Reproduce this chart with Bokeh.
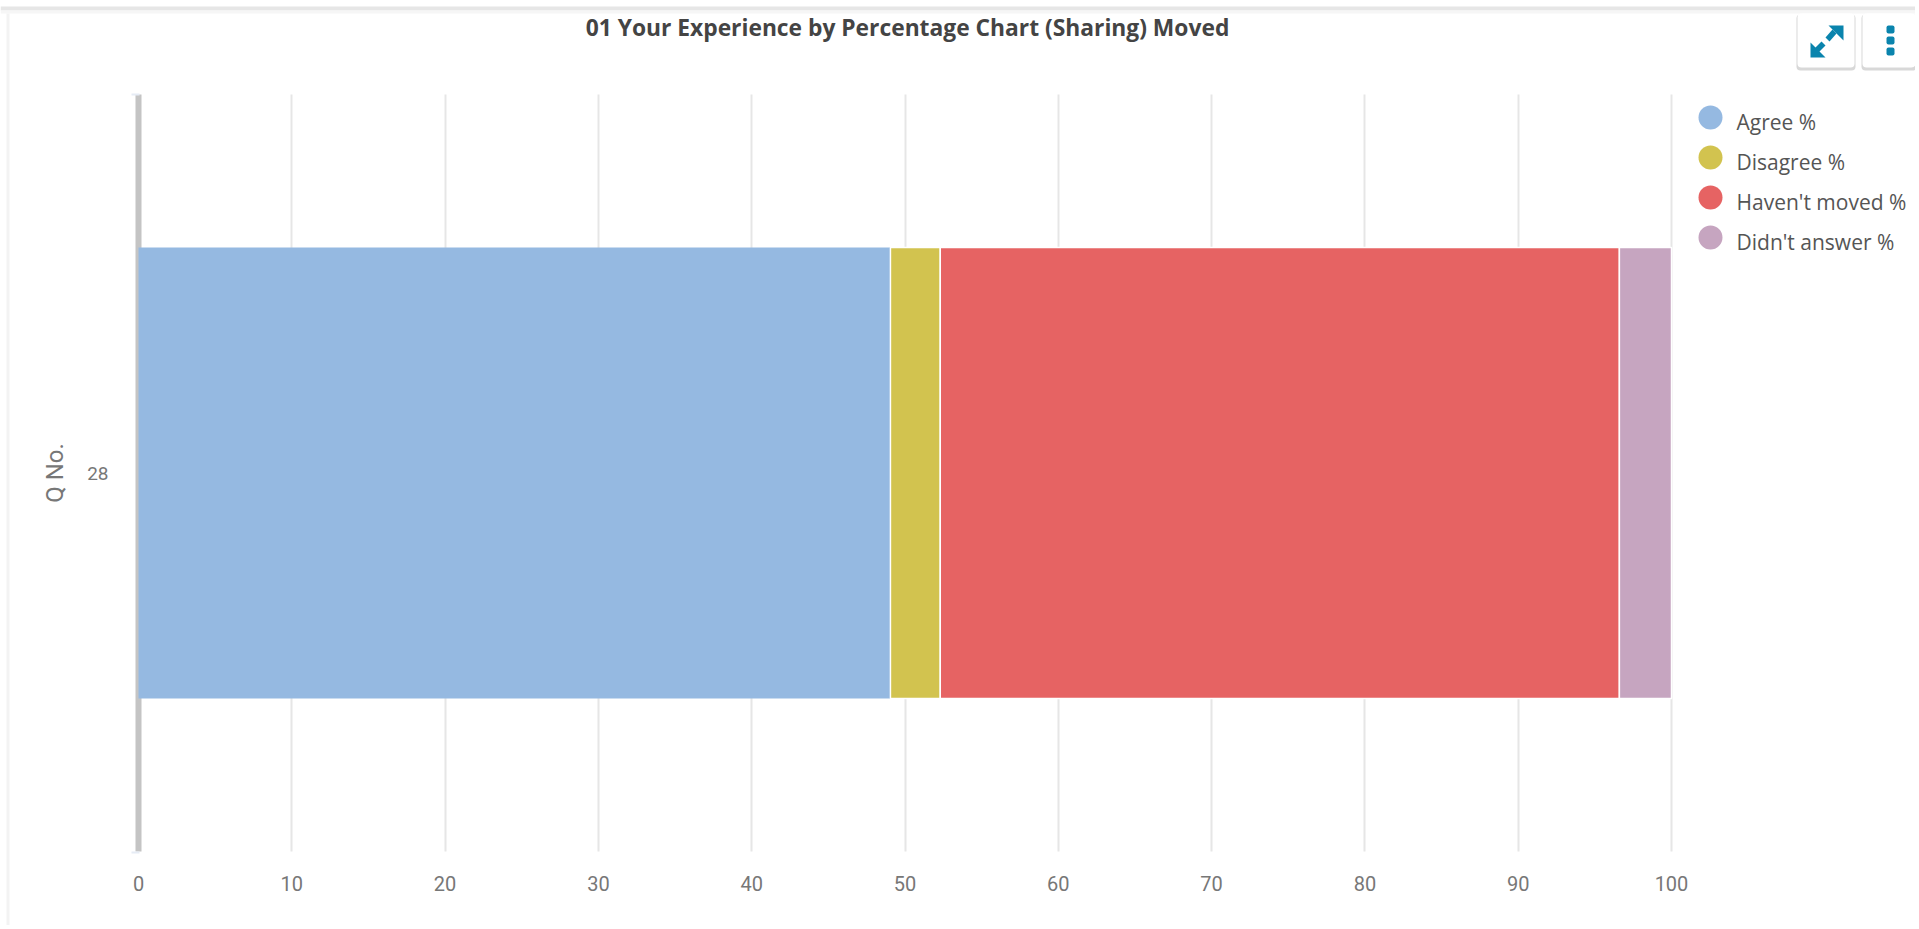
from bokeh.plotting import figure
from bokeh.models import (ColumnDataSource, Range1d, FixedTicker, BoxAnnotation,
                          PolyAnnotation, Label)
from bokeh.embed import file_html
from bokeh.resources import INLINE

categories = ["28"]
category_positions = [0]
series_names = ["Agree %", "Disagree %", "Haven't moved %", "Didn't answer %"]
agree = [49.05]
disagree = [3.25]
havent_moved = [44.3]
didnt_answer = [3.4]
colors = ["#95b9e1", "#d2c34f", "#e66363", "#c6a5c0"]
x_ticks = [0, 10, 20, 30, 40, 50, 60, 70, 80, 90, 100]
title_text = "01 Your Experience by Percentage Chart (Sharing) Moved"
y_title = "Q No."

W, H = 1915, 925
PX_X = 15.33   # pixels per percent
PX_Y = 757.0   # pixels per category band
X0_PX, Y0_PX = 138.0, 472.5


def box(l, t, r, b, color, radius=0, alpha=1.0):
    return BoxAnnotation(left=l, right=r, top=t, bottom=b,
                         left_units="canvas", right_units="canvas",
                         top_units="canvas", bottom_units="canvas",
                         fill_color=color, fill_alpha=alpha, line_color=None,
                         border_radius=radius, editable=False)


def poly(points, color):
    return PolyAnnotation(xs=[x for x, _ in points], ys=[y for _, y in points],
                          xs_units="canvas", ys_units="canvas",
                          fill_color=color, fill_alpha=1.0, line_color=None)


def label(x, y, text, font, size, color, style="normal", align="left"):
    return Label(x=x, y=y, x_units="canvas", y_units="canvas", text=text,
                 text_font=font, text_font_size=size, text_color=color, text_font_style=style,
                 text_align=align, text_baseline="middle")


p = figure(width=W, height=H, output_backend="svg", toolbar_location=None,
           x_range=Range1d(-X0_PX / PX_X, (W - X0_PX) / PX_X),
           y_range=Range1d(-(H - Y0_PX) / PX_Y, Y0_PX / PX_Y),
           min_border=0, tools="")
p.outline_line_color = None
p.background_fill_color = "white"
p.border_fill_color = "white"

source = ColumnDataSource(dict(q=category_positions, agree=agree, disagree=disagree,
                               havent=havent_moved, didnt=didnt_answer))
rs = p.hbar_stack(["agree", "disagree", "havent", "didnt"], y="q", height=0.596, source=source,
                  color=colors, line_color="white", line_width=1.5)
for r in rs:
    r.level = "overlay"
rs[0].glyph.line_color = None

p.xaxis.fixed_location = -0.5
p.xaxis.bounds = (0, 100)
p.xaxis.ticker = FixedTicker(ticks=x_ticks)
p.xaxis.axis_line_color = None
p.xaxis.major_tick_line_color = None
p.xaxis.minor_tick_line_color = None
p.xaxis.major_label_text_font = "Roboto"
p.xaxis.major_label_text_font_size = "20px"
p.xaxis.major_label_text_color = "#777777"
p.xaxis.major_label_standoff = 18

p.yaxis.fixed_location = 0
p.yaxis.bounds = (-0.5, 0.5)
p.yaxis.ticker = FixedTicker(ticks=category_positions)
p.yaxis.major_label_overrides = dict(zip(category_positions, categories))
p.yaxis.axis_label = y_title
p.yaxis.axis_label_text_font = "Roboto"
p.yaxis.axis_label_text_font_style = "normal"
p.yaxis.axis_label_text_font_size = "24px"
p.yaxis.axis_label_text_color = "#777777"
p.yaxis.axis_line_color = "#c4c4c4"
p.yaxis.axis_line_width = 6
p.yaxis.major_tick_line_color = None
p.yaxis.minor_tick_line_color = None
p.yaxis.major_label_text_font = "Roboto"
p.yaxis.major_label_text_font_size = "19px"
p.yaxis.major_label_text_color = "#777777"
p.yaxis.major_label_standoff = 24
p.yaxis.axis_label_standoff = 15
p.yaxis.major_label_orientation = "horizontal"

p.xgrid.ticker = FixedTicker(ticks=x_ticks[1:])
p.xgrid.cross_bounds = (-0.5, 0.5)
p.xgrid.grid_line_color = "#e6e6e6"
p.xgrid.grid_line_width = 2
p.ygrid.grid_line_color = None

# card edge
p.add_layout(box(0, 6, W, 10, "#e6e6e6"))
p.add_layout(box(0, 10, W, 13, "#f6f6f6"))
p.add_layout(box(6, 13, 9, H, "#f3f3f3"))

# axis end ticks
p.add_layout(box(131, 93, 139, 95, "#e6ecf5"))
p.add_layout(box(131, 851, 139, 853, "#e6ecf5"))

# title
p.add_layout(label(907, 27, title_text, "Open Sans", "22.8px", "#444444", style="bold", align="center"))

# buttons
ICON = "#0a84ad"
for l, r in [(1797, 1854), (1862, W)]:
    p.add_layout(box(l - 1, 14, r + 1, 70, "#d8d8d8", radius=4))
    p.add_layout(box(l, 13, r, 67, "#ffffff", radius=4))
p.add_layout(poly([(1843, 25), (1828, 25), (1843, 40)], ICON))
p.add_layout(poly([(1810, 57), (1825, 57), (1810, 42)], ICON))
p.add_layout(poly([(1832, 29), (1836, 33), (1829, 41), (1825, 37)], ICON))
p.add_layout(poly([(1821, 41), (1825, 45), (1818, 52), (1814, 48)], ICON))
for t in [25, 36, 47]:
    p.add_layout(box(1886, t, 1894, t + 8, ICON, radius=2))

# legend
for i, (name, c) in enumerate(zip(series_names, colors)):
    cy = 117 + i * 40
    p.add_layout(box(1698, cy - 12, 1722, cy + 12, c, radius=12))
    p.add_layout(label(1736, cy + 4, name, "Open Sans", "21px", "#555555"))

open("out.html", "w").write(file_html(p, INLINE))
